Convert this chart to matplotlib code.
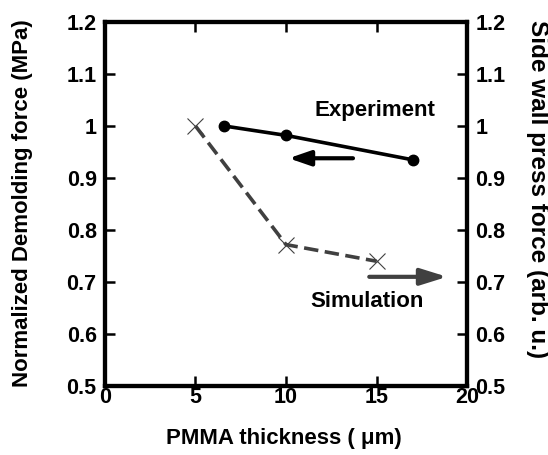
import matplotlib
matplotlib.use("Agg")
import matplotlib.pyplot as plt

plt.rcParams['font.family'] = ['Liberation Sans', 'DejaVu Sans']
plt.rcParams['font.weight'] = 'bold'

exp_x = [6.6, 10, 17]
exp_y = [1.0, 0.982, 0.935]
sim_x = [5, 10, 15]
sim_y = [1.0, 0.772, 0.74]
yticks = [0.5, 0.6, 0.7, 0.8, 0.9, 1.0, 1.1, 1.2]
yticklabels = ['0.5', '0.6', '0.7', '0.8', '0.9', '1', '1.1', '1.2']
xticks = [0, 5, 10, 15, 20]

fig = plt.figure(figsize=(5.48, 4.55), dpi=100)
ax = fig.add_axes([0.1916, 0.1516, 0.6606, 0.80])
ax2 = ax.twinx()

ax.plot(exp_x, exp_y, color='black', lw=2.6, marker='o', ms=7.5, zorder=3)
ax2.plot(sim_x, sim_y, color='#404040', lw=2.6, ls=(0, (4, 1.8)), marker='x', ms=11,
         mew=0.8, mec='#404040', zorder=3)

TS = 15.5
LS = 16
for a in (ax, ax2):
    a.set_xlim(0, 20)
    a.set_ylim(0.5, 1.2)
    a.set_yticks(yticks)
    a.set_yticklabels(yticklabels, fontsize=TS, fontweight='bold')
    for s in a.spines.values():
        s.set_linewidth(3)
    a.tick_params(direction='in', width=1.8, length=7, pad=6)

ax.set_xticks(xticks)
ax.set_xticklabels([str(t) for t in xticks], fontsize=TS, fontweight='bold')
ax.tick_params(axis='x', top=True, pad=1)
ax.tick_params(axis='y', left=True, right=False)
ax2.tick_params(axis='y', right=True)

ax.set_xlabel('PMMA thickness ( μm)', fontsize=LS, fontweight='bold', va='center')
ax.xaxis.set_label_coords(0.494, -0.143)
ax.set_ylabel('Normalized Demolding force (MPa)', fontsize=LS, fontweight='bold', va='center')
ax.yaxis.set_label_coords(-0.229, 0.503)
ax2.set_ylabel('Side wall press force (arb. u.)', fontsize=17.5, fontweight='bold',
               rotation=270, va='center')
ax2.yaxis.set_label_coords(1.196, 0.541)

ax.annotate('', xy=(10.15, 0.938), xytext=(13.7, 0.938),
            arrowprops=dict(arrowstyle='-|>,head_length=1.3,head_width=0.45',
                            color='black', lw=3, shrinkA=0, shrinkB=0))
ax.annotate('', xy=(18.9, 0.71), xytext=(14.6, 0.71),
            arrowprops=dict(arrowstyle='-|>,head_length=1.6,head_width=0.5',
                            color='#404040', lw=3, shrinkA=0, shrinkB=0))

ax.text(14.9, 1.029, 'Experiment', fontsize=LS, fontweight='bold', ha='center', va='center')
ax.text(14.5, 0.663, 'Simulation', fontsize=LS, fontweight='bold', ha='center', va='center')

fig.savefig('out.png', dpi=100)
